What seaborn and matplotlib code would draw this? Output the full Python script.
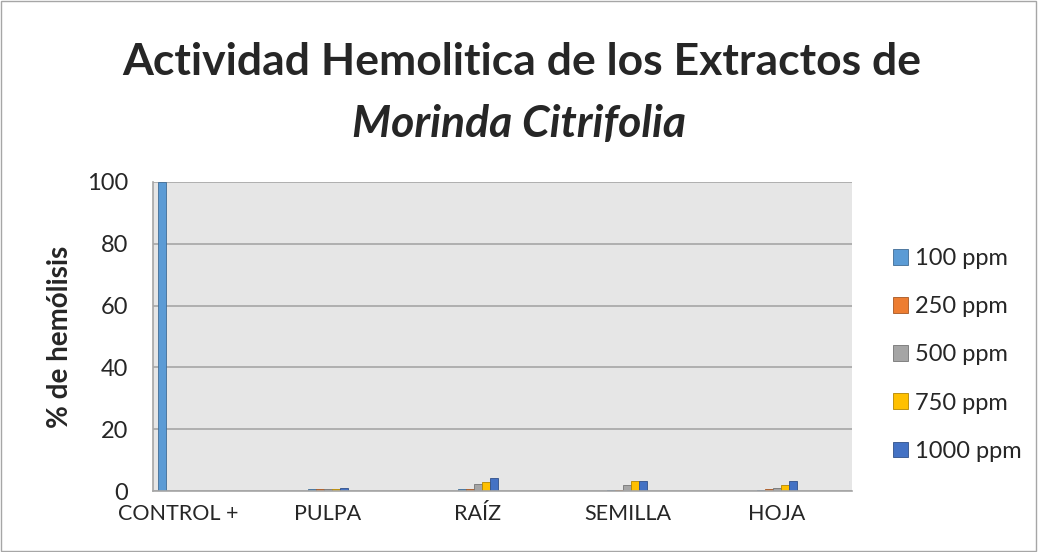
import numpy as np
import pandas as pd
import matplotlib
matplotlib.use("Agg")
import matplotlib.pyplot as plt
import seaborn as sns
from matplotlib.patches import Rectangle, Patch

# ---- datos ----
# 14 categorias en el eje; solo una de cada tres lleva nombre
grupos = ["CONTROL +", "PULPA", "RAÍZ", "SEMILLA", "HOJA"]
n_cat = 14
series = ["100 ppm", "250 ppm", "500 ppm", "750 ppm", "1000 ppm"]
colores = ["#5B9BD5", "#ED7D31", "#A5A5A5", "#FFC000", "#4472C4"]

control = [100, np.nan, np.nan, np.nan, np.nan]
pulpa = [0.8, 0.7, 0.6, 0.8, 1.1]
raiz = [0.8, 0.8, 2.4, 2.8, 4.1]
semilla = [0.2, 0.3, 1.9, 3.1, 3.3]
hoja = [0.2, 0.8, 1.1, 1.8, 3.2]

valores_grupo = [control, pulpa, raiz, semilla, hoja]
pos_grupo = [0, 3, 6, 9, 12]

cats = [f"c{i}" for i in range(n_cat)]
filas = []
for i, c in enumerate(cats):
    for j, s in enumerate(series):
        v = np.nan
        if i in pos_grupo:
            v = valores_grupo[pos_grupo.index(i)][j]
        filas.append({"cat": c, "serie": s, "valor": v})
df = pd.DataFrame(filas)

# ---- figura ----
sns.set_style("white")
plt.rcParams["font.family"] = ["Lato", "DejaVu Sans"]

fig = plt.figure(figsize=(10.38, 5.52), dpi=100)
ax = fig.add_axes([0.1474, 0.1105, 0.6734, 0.5598])

sns.barplot(data=df, x="cat", y="valor", hue="serie", order=cats,
            hue_order=series, palette=colores, width=0.8, ax=ax,
            legend=False, errorbar=None, saturation=1)

for p in ax.patches:
    fc = p.get_facecolor()
    p.set_edgecolor(tuple(c * 0.7 for c in fc[:3]))
    p.set_linewidth(0.6)

ax.set_facecolor("#E6E6E6")
ax.set_ylim(0, 100)
ax.set_xlim(-0.5, n_cat - 0.5)
ax.set_yticks(np.arange(0, 101, 20))
ax.yaxis.grid(True, color="#A6A6A6", linewidth=1.2)
ax.set_axisbelow(True)
ax.tick_params(axis="y", labelsize=17, length=6, color="#A6A6A6", width=1, pad=12)

# ticks del eje x en los bordes de cada categoria, nombres en el centro
ax.set_xticks(np.arange(-0.5, n_cat, 1))
ax.set_xticklabels([])
ax.set_xticks(pos_grupo, minor=True)
ax.set_xticklabels(grupos, minor=True, fontsize=15.5)
ax.tick_params(axis="x", which="major", length=6, color="#A6A6A6", width=1)
ax.tick_params(axis="x", which="minor", length=0, pad=9)

for lado in ["top", "right"]:
    ax.spines[lado].set_visible(False)
for lado in ["left", "bottom"]:
    ax.spines[lado].set_color("#A6A6A6")
    ax.spines[lado].set_linewidth(1.2)

ax.set_xlabel("")
ax.set_ylabel("% de hemólisis", fontsize=20, fontweight="bold", labelpad=10)

fig.text(0.503, 0.888, "Actividad Hemolitica de los Extractos de",
         ha="center", va="center", fontsize=32, fontweight="bold")
fig.text(0.500, 0.775, "Morinda Citrifolia", ha="center", va="center",
         fontsize=32, fontweight="bold", style="italic")

handles = [Patch(facecolor=c, edgecolor=tuple(x * 0.7 for x in matplotlib.colors.to_rgb(c)),
                 linewidth=0.6) for c in colores]
fig.legend(handles, series, loc="center left", bbox_to_anchor=(0.860, 0.357),
           frameon=False, fontsize=17, handlelength=0.65, handleheight=0.65,
           handletextpad=0.3, labelspacing=1.15, borderpad=0, borderaxespad=0)

fig.add_artist(Rectangle((0.0005, 0.001), 0.998, 0.997, transform=fig.transFigure,
                         fill=False, edgecolor="#A6A6A6", linewidth=1))

fig.savefig("out.png", dpi=100)
